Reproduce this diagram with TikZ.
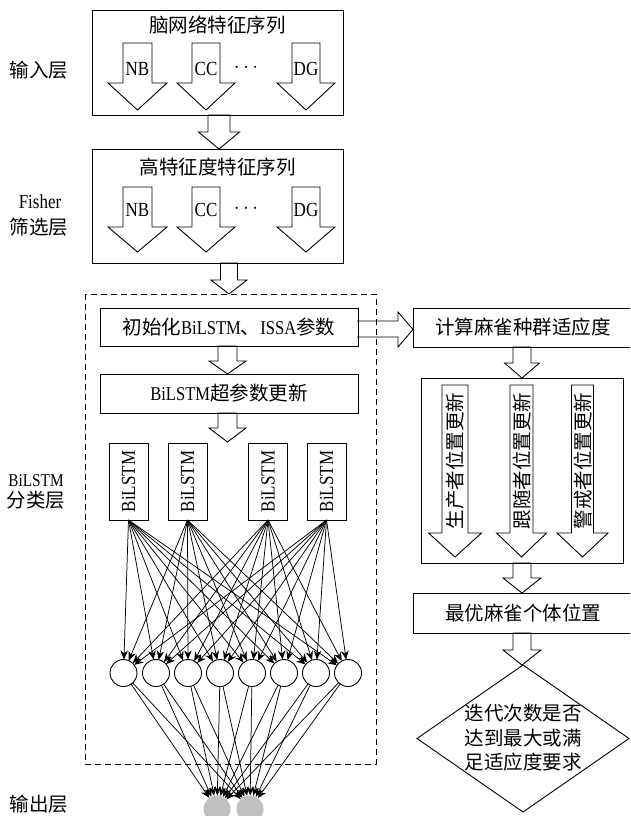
\documentclass[tikz,border=0pt]{standalone}
\usepackage{fontspec}
\usepackage{graphicx}
\setmainfont{Liberation Serif}[FakeStretch=0.85]
\newfontfamily\cjk{Noto Sans CJK SC}
\usetikzlibrary{arrows.meta,shapes.geometric}
\definecolor{outgray}{RGB}{192,192,192}
\newcommand\zh[1]{{\cjk #1}}
% vertical block arrow: cx, ytop, ybase, ytip, shaft half width, head half width
\newcommand\vbarrow[6]{%
  \draw[barrow] (#1-#5,#2) -- (#1-#5,#3) -- (#1-#6,#3) -- (#1,#4) -- (#1+#6,#3) -- (#1+#5,#3) -- (#1+#5,#2) -- cycle;}
\begin{document}
\begin{tikzpicture}[x=1pt,y=-1pt,
  every node/.style={inner sep=0pt, outer sep=0pt},
  zhtxt/.style={font=\cjk\fontsize{19.5}{24.5}\selectfont},
  mixtxt/.style={font=\fontsize{19.5}{24}\selectfont},
  lat/.style={font=\fontsize{20}{24}\selectfont},
  box/.style={draw, line width=0.9pt},
  barrow/.style={draw, line width=0.9pt, line join=miter},
  net/.style={line width=0.75pt, -{Stealth[length=9pt,width=7.5pt]}},
  neuron/.style={draw, circle, line width=0.9pt, fill=white, minimum size=27pt},
  outn/.style={circle, fill=outgray, minimum size=27pt},
]
\clip (0,0) rectangle (630,816);

% ---------- left labels ----------
\node[zhtxt] (lin) at (39,70) {输入层};
\node[lat] (lfisher) at (40,202) {Fisher};
\node[zhtxt] (lfil) at (39,227) {筛选层};
\node[font=\fontsize{18}{22}\selectfont] (lbil) at (36,481) {BiLSTM};
\node[zhtxt] (lcls) at (36,500) {分类层};
\node[zhtxt] (lout) at (39,804) {输出层};

% ---------- input layer ----------
\node[box, minimum width=251pt, minimum height=105pt] (inbox) at (217.5,62.5) {};
\node[zhtxt] (intitle) at (217.5,25) {脑网络特征序列};
\vbarrow{137.5}{43}{83}{110}{14.5}{29.5}
\vbarrow{206}{43}{83}{110}{14}{29}
\vbarrow{306}{43}{83}{110}{14}{29}
\node[lat] (inNB) at (137.5,69) {NB};
\node[lat] (inCC) at (206,69) {CC};
\node[lat] (indots) at (246,68) {$\cdots$};
\node[lat] (inDG) at (306,69) {DG};

\vbarrow{219}{115}{132}{149}{11}{20.5}

% ---------- fisher layer ----------
\node[box, minimum width=251pt, minimum height=114pt] (fbox) at (217.5,206) {};
\node[zhtxt] (ftitle) at (217.5,167) {高特征度特征序列};
\vbarrow{137.5}{187}{227}{252}{14.5}{29.5}
\vbarrow{206}{187}{227}{252}{14}{29}
\vbarrow{306}{187}{227}{252}{14}{29}
\node[lat] (fNB) at (137.5,210) {NB};
\node[lat] (fCC) at (206,210) {CC};
\node[lat] (fdots) at (246,209) {$\cdots$};
\node[lat] (fDG) at (306,210) {DG};

\vbarrow{229}{263}{280}{294}{8.5}{18}

% ---------- BiLSTM layer ----------
\draw[line width=0.9pt, dash pattern=on 6pt off 4pt] (85,294) rectangle (376,764);

\node[box, mixtxt, minimum width=258pt, minimum height=38pt] (init) at (229,327) {\zh{初始化}BiLSTM\zh{、}ISSA\zh{参数}};
\vbarrow{227.5}{346}{361}{374}{9.5}{18.5}
\node[box, mixtxt, minimum width=258pt, minimum height=39pt] (upd) at (229,393.5) {BiLSTM\zh{超参数更新}};
\vbarrow{227.5}{413}{428}{442}{9.5}{18.5}

\foreach \i/\x in {1/128.5,2/187.5,3/268,4/326.5}
  \node[box, lat, minimum width=39pt, minimum height=77pt] (b\i) at (\x,481.5) {\rotatebox{90}{BiLSTM}};

\foreach \i/\x in {1/123.5,2/156,3/188,4/220,5/252,6/284,7/316,8/348}
  \node[neuron] (c\i) at (\x,673) {};

\node[outn] (g1) at (217,809) {};
\node[outn] (g2) at (250,809) {};

\foreach \b in {1,...,4}
  \foreach \c in {1,...,8}
    \draw[net] (b\b.south) -- (c\c);
\foreach \c in {1,...,8}
  \foreach \g in {1,2}
    \draw[net] (c\c) -- (g\g);

% ---------- sparrow search (right) ----------
\draw[barrow] (357,321) -- (398,321) -- (398,312) -- (413,329.5) -- (398,347) -- (398,337) -- (357,337);
\node[box, zhtxt, minimum width=220pt, minimum height=39pt] (calc) at (523,327.5) {计算麻雀种群适应度};
\vbarrow{522}{347}{363}{378}{9}{17.5}
\node[box, minimum width=202pt, minimum height=185pt] (grp) at (522,470.5) {};
\vbarrow{455}{385}{533}{557}{13}{26.5}
\vbarrow{521.5}{385}{533}{557}{11.5}{25}
\vbarrow{582.5}{385}{533}{557}{11}{25.5}
\node[zhtxt, rotate=90] (prod) at (455,461) {生产者位置更新};
\node[zhtxt, rotate=90] (foll) at (522,461) {跟随者位置更新};
\node[zhtxt, rotate=90] (warn) at (583,461) {警戒者位置更新};
\vbarrow{522}{563}{578}{593}{9}{19}
\node[box, zhtxt, minimum width=220pt, minimum height=40pt] (best) at (523,613) {最优麻雀个体位置};
\vbarrow{522}{633}{650}{665}{9}{19}
\node[draw, diamond, line width=0.9pt, minimum width=212pt, minimum height=147pt] (dm) at (523,738.5) {};
\node[zhtxt, align=center] (dmtxt) at (523,738) {迭代次数是否\\达到最大或满\\足适应度要求};
\end{tikzpicture}
\end{document}
